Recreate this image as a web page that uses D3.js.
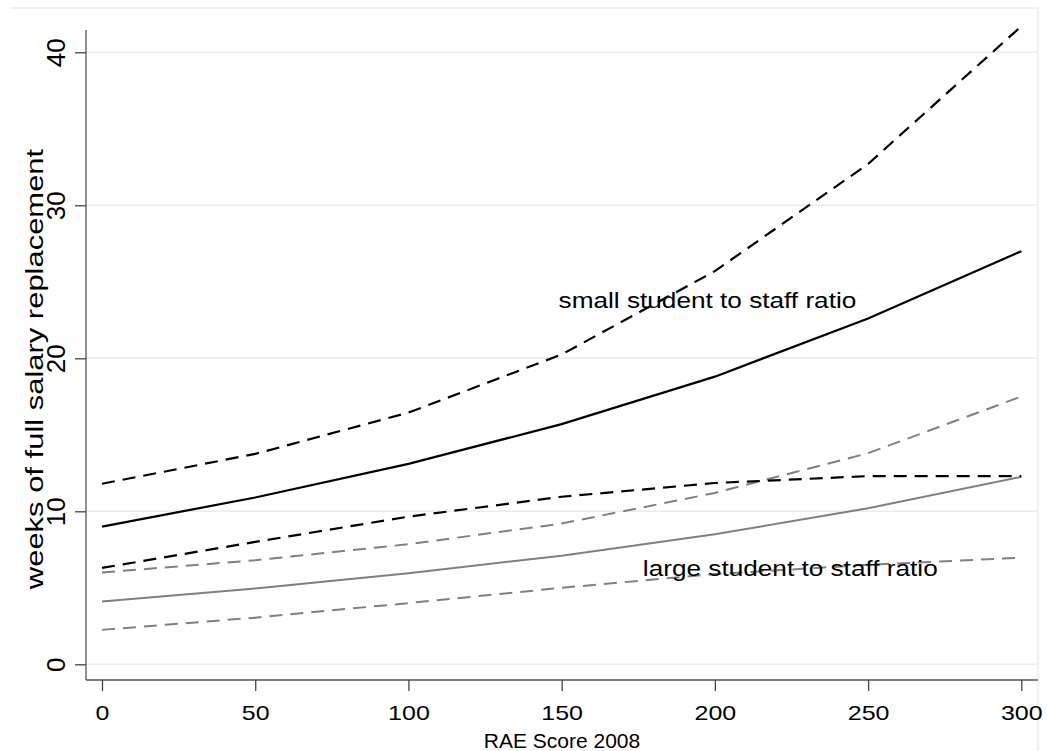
<!DOCTYPE html>
<html>
<head>
<meta charset="utf-8">
<script src="https://cdn.jsdelivr.net/npm/d3@7"></script>
<style>
  body { margin: 0; background: #fff; }
  text { font-family: "Liberation Sans", Arial, sans-serif; fill: #000; }
</style>
</head>
<body>
<div id="chart"></div>
<script>
// RAE score grid
const raeScores = [0, 50, 100, 150, 200, 250, 300];

// small student to staff ratio: fit and confidence band
const smallFit = [9.0, 10.9, 13.1, 15.7, 18.8, 22.6, 27.0];
const smallHi = [11.8, 13.75, 16.45, 20.25, 25.7, 32.7, 41.7];
const smallLo = [6.3, 8.0, 9.65, 10.95, 11.85, 12.3, 12.3];

// large student to staff ratio: fit and confidence band
const largeFit = [4.1, 4.95, 5.95, 7.1, 8.5, 10.2, 12.25];
const largeHi = [6.0, 6.8, 7.85, 9.2, 11.2, 13.8, 17.5];
const largeLo = [2.25, 3.05, 4.0, 5.0, 5.9, 6.5, 6.97];

const xTicks = [0, 50, 100, 150, 200, 250, 300];
const yTicks = [0, 10, 20, 30, 40];

const width = 1047;
const height = 751;
const plot = { left: 86, right: 1038, top: 8, bottom: 680 };
const stretch = 1.19; // glyphs in the source are wider than Arial

const svg = d3.select('#chart')
  .append('svg')
  .attr('width', width)
  .attr('height', height);

const x = d3.scaleLinear().domain([0, 300]).range([102, 1021.3]);
const y = d3.scaleLinear().domain([0, 40]).range([664.3, 52.3]);

const gridColor = '#e7eef1';

// outer frame (top and right edges visible)
svg.append('path')
  .attr('d', `M10,${plot.top}H${plot.right}V${height + 5}`)
  .attr('fill', 'none')
  .attr('stroke', gridColor)
  .attr('stroke-width', 1.5);

// horizontal gridlines
svg.append('g')
  .selectAll('line')
  .data(yTicks)
  .enter()
  .append('line')
  .attr('x1', plot.left)
  .attr('x2', plot.right)
  .attr('y1', (d) => y(d))
  .attr('y2', (d) => y(d))
  .attr('stroke', gridColor)
  .attr('stroke-width', 1.5);

// axes
const xAxis = svg.append('g')
  .attr('transform', `translate(0,${plot.bottom})`)
  .call(d3.axisBottom(x).tickValues(xTicks).tickSize(11));
xAxis.select('.domain').attr('d', `M${plot.left},0H${plot.right}`);

const yAxis = svg.append('g')
  .attr('transform', `translate(${plot.left},0)`)
  .call(d3.axisLeft(y).tickValues(yTicks).tickSize(11));
yAxis.select('.domain').attr('d', `M0,${plot.top + 22}V${plot.bottom}`);

[xAxis, yAxis].forEach((g) => {
  g.select('.domain').attr('stroke', '#555').attr('stroke-width', 1.3);
  g.selectAll('.tick line').attr('stroke', '#444').attr('stroke-width', 1.3);
  g.selectAll('.tick text')
    .style('font-family', '"Liberation Sans", Arial, sans-serif')
    .style('font-size', '21px')
    .attr('fill', '#000');
});

xAxis.selectAll('.tick text')
  .attr('y', null)
  .attr('dy', null)
  .attr('transform', `translate(0,40) scale(${stretch},1)`);

// rotated y tick labels
yAxis.selectAll('.tick text')
  .style('font-size', '26px')
  .attr('x', null)
  .attr('dy', null)
  .attr('text-anchor', 'middle')
  .attr('transform', 'translate(-21,0) rotate(-90)');

// axis titles
svg.append('text')
  .attr('x', (plot.left + plot.right) / 2)
  .attr('y', 748)
  .attr('text-anchor', 'middle')
  .style('font-size', '21px')
  .text('RAE Score 2008');

svg.append('text')
  .attr('transform', 'translate(43,369) rotate(-90) scale(1.29,1)')
  .attr('text-anchor', 'middle')
  .style('font-size', '24px')
  .text('weeks of full salary replacement');

// series
const seriesList = [
  { values: largeLo, color: '#808080', dash: '13,8', w: 2 },
  { values: largeHi, color: '#808080', dash: '13,8', w: 2 },
  { values: largeFit, color: '#808080', dash: null, w: 2 },
  { values: smallLo, color: '#000', dash: '13,8', w: 2.2 },
  { values: smallHi, color: '#000', dash: '13,8', w: 2.2 },
  { values: smallFit, color: '#000', dash: null, w: 2.2 },
];

const line = d3.line()
  .x((d, i) => x(raeScores[i]))
  .y((d) => y(d));

svg.append('g')
  .selectAll('path')
  .data(seriesList)
  .enter()
  .append('path')
  .attr('d', (d) => line(d.values))
  .attr('fill', 'none')
  .attr('stroke', (d) => d.color)
  .attr('stroke-width', (d) => d.w)
  .attr('stroke-dasharray', (d) => d.dash);

// labels
const labels = [
  { text: 'small student to staff ratio', at: [149, 23.3] },
  { text: 'large student to staff ratio', at: [176.5, 5.8] },
];

svg.append('g')
  .selectAll('text')
  .data(labels)
  .enter()
  .append('text')
  .attr('transform', (d) => `translate(${x(d.at[0])},${y(d.at[1])}) scale(${stretch},1)`)
  .style('font-size', '22px')
  .text((d) => d.text);
</script>
</body>
</html>
